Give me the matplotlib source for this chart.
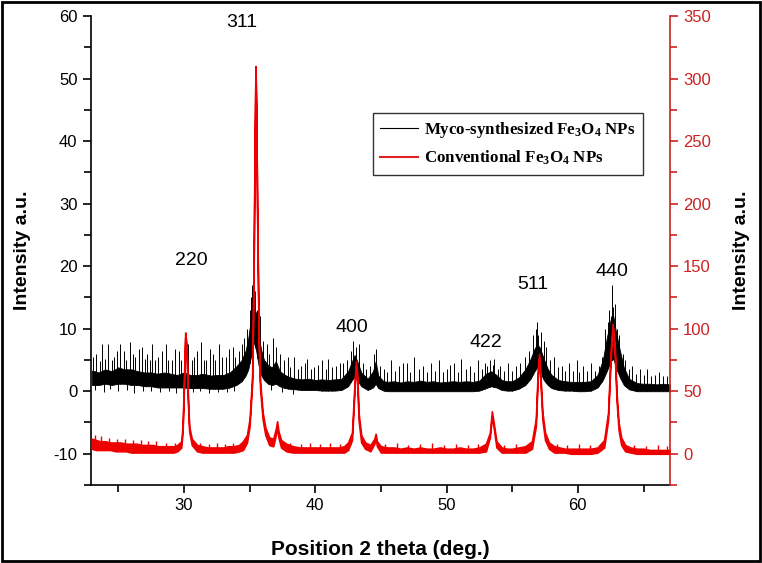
import numpy as np
import matplotlib.pyplot as plt
from matplotlib.patches import Rectangle
from matplotlib.lines import Line2D
from matplotlib.ticker import MultipleLocator

plt.rcParams['font.family'] = ['Liberation Sans', 'DejaVu Sans']
plt.rcParams['mathtext.default'] = 'regular'
plt.rcParams['axes.unicode_minus'] = False

# --- myco-synthesized Fe3O4 (left axis): noise band lo/hi
black_x = [23.0, 23.5, 24.0, 24.5, 25.0, 25.5, 26.0, 26.5, 27.0, 27.5, 28.0, 28.5,
           29.0, 29.5, 30.0, 30.5, 31.0, 31.5, 32.0, 32.5, 33.0, 33.5, 34.0, 34.4,
           34.7, 34.9, 35.1, 35.3, 35.5, 35.7, 35.9, 36.1, 36.4, 36.7, 37.0, 37.3,
           37.7, 38.0, 38.5, 39.0, 39.5, 40.0, 40.5, 41.0, 41.5, 42.0, 42.5, 42.8,
           43.0, 43.2, 43.5, 44.0, 44.4, 44.6, 44.8, 45.2, 45.5, 46.0, 46.5, 47.0,
           47.5, 48.0, 48.5, 49.0, 49.5, 50.0, 50.5, 51.0, 51.5, 52.0, 52.5, 53.0,
           53.4, 53.8, 54.2, 54.6, 55.0, 55.5, 56.0, 56.4, 56.7, 56.9, 57.1, 57.4,
           57.7, 58.0, 58.5, 59.0, 59.5, 60.0, 60.5, 61.0, 61.5, 61.9, 62.2, 62.5,
           62.7, 62.9, 63.2, 63.5, 63.9, 64.5, 65.0, 65.5, 66.0, 66.5, 67.0]
black_lo = [1.0, 1.0, 1.2, 1.0, 1.2, 1.2, 1.0, 1.0, 0.8, 0.8, 0.6, 0.6,
            0.6, 0.6, 0.6, 0.5, 0.5, 0.5, 0.4, 0.4, 0.4, 0.6, 1.0, 1.6,
            2.5, 3.5, 5.5, 8.0, 6.5, 4.0, 2.5, 1.8, 1.2, 1.0, 1.2, 0.8,
            0.5, 0.4, 0.3, 0.2, 0.2, 0.2, 0.1, 0.1, 0.1, 0.2, 0.8, 1.8,
            2.3, 1.8, 0.8, 0.2, 0.6, 1.2, 0.5, 0.1, 0.0, 0.0, 0.0, 0.0,
            0.0, 0.0, 0.0, 0.0, 0.0, 0.0, 0.0, 0.0, 0.0, 0.0, 0.1, 0.5,
            0.8, 0.6, 0.2, 0.1, 0.1, 0.4, 1.0, 2.0, 3.2, 3.8, 3.2, 1.8,
            1.0, 0.5, 0.2, 0.1, 0.1, 0.0, 0.0, 0.1, 0.6, 1.8, 3.2, 4.8,
            5.2, 3.8, 2.2, 1.0, 0.3, 0.0, 0.0, 0.0, 0.0, 0.0, 0.0]
black_hi = [3.3, 3.0, 3.5, 3.2, 3.8, 3.5, 3.5, 3.2, 3.0, 3.0, 2.8, 3.0,
            2.8, 2.6, 3.0, 2.6, 2.6, 2.8, 2.5, 2.6, 2.6, 3.0, 4.0, 5.0,
            6.5, 8.5, 11.5, 13.5, 12.5, 8.5, 6.5, 5.0, 4.2, 3.8, 4.8, 3.2,
            2.6, 2.3, 2.0, 1.9, 2.0, 1.8, 1.9, 1.8, 1.9, 2.0, 3.2, 4.8,
            5.8, 4.8, 3.0, 2.0, 3.2, 4.8, 2.5, 1.6, 1.5, 1.6, 1.4, 1.6,
            1.5, 1.7, 1.5, 1.6, 1.4, 1.5, 1.6, 1.5, 1.6, 1.5, 1.7, 2.8,
            3.2, 2.6, 1.8, 1.6, 1.6, 2.2, 3.5, 5.2, 6.8, 7.5, 7.0, 5.2,
            3.6, 2.6, 1.8, 1.6, 1.5, 1.5, 1.5, 1.6, 2.6, 5.0, 8.5, 11.5,
            12.0, 9.5, 6.5, 3.8, 2.0, 1.3, 1.2, 1.2, 1.1, 1.2, 1.1]

# single noise spikes above the band
spike_x = [23.1, 23.3, 23.6, 23.8, 24.0, 24.2, 24.5, 24.7, 24.9, 25.1, 25.4, 25.6,
           25.9, 26.1, 26.3, 26.6, 26.8, 27.0, 27.2, 27.4, 27.6, 27.8, 28.0, 28.3,
           28.6, 28.8, 29.1, 29.3, 29.6, 29.8, 30.1, 30.3, 30.6, 30.8, 31.0, 31.3,
           31.5, 31.7, 32.0, 32.2, 32.4, 32.7, 32.9, 33.2, 33.4, 33.7, 33.9, 34.2,
           34.4, 34.6, 34.8, 35.0, 35.1, 35.2, 35.3, 35.4, 35.6, 35.8, 36.0, 36.3,
           36.5, 36.8, 37.0, 37.3, 37.6, 37.9, 38.1, 38.4, 38.7, 38.9, 39.2, 39.4,
           39.7, 39.9, 40.2, 40.5, 40.8, 41.0, 41.3, 41.6, 41.9, 42.1, 42.4, 42.7,
           42.9, 43.1, 43.3, 43.6, 43.9, 44.2, 44.5, 44.6, 44.9, 45.2, 45.5, 45.8,
           46.1, 46.4, 46.7, 47.0, 47.2, 47.5, 47.9, 48.2, 48.5, 48.8, 49.1, 49.4,
           49.7, 50.0, 50.3, 50.6, 50.9, 51.1, 51.5, 51.8, 52.1, 52.4, 52.7, 52.9,
           53.1, 53.3, 53.5, 53.6, 53.9, 54.1, 54.4, 54.7, 55.0, 55.3, 55.6, 56.0,
           56.3, 56.6, 56.8, 56.9, 57.0, 57.2, 57.4, 57.6, 57.9, 58.2, 58.5, 58.8,
           59.0, 59.3, 59.6, 59.9, 60.1, 60.4, 60.7, 61.0, 61.3, 61.6, 61.8, 62.1,
           62.3, 62.4, 62.5, 62.6, 62.7, 62.8, 63.0, 63.1, 63.4, 63.6, 63.9, 64.1,
           64.4, 64.7, 65.0, 65.3, 65.6, 65.9, 66.2, 66.5, 66.8]
spike_y = [5.5, 6.0, 4.8, 7.5, 5.2, 7.5, 5.0, 5.5, 6.5, 7.5, 6.5, 5.0,
           7.8, 6.0, 5.5, 6.8, 7.0, 5.2, 6.0, 5.0, 7.5, 5.0, 5.5, 6.5,
           7.5, 5.0, 5.0, 6.8, 6.5, 5.0, 5.5, 7.5, 5.0, 5.5, 6.5, 7.8,
           5.0, 5.0, 6.8, 6.0, 5.0, 7.5, 5.5, 5.5, 6.8, 7.0, 5.5, 6.5,
           7.5, 8.5, 10.0, 13.0, 15.0, 17.0, 14.5, 16.0, 13.0, 12.0, 8.0, 7.5,
           6.0, 8.5, 7.0, 6.0, 5.0, 5.5, 3.8, 5.5, 3.5, 4.0, 4.5, 5.2,
           3.6, 3.8, 4.2, 5.0, 3.5, 5.2, 3.8, 4.0, 4.5, 4.5, 5.0, 6.5,
           8.0, 7.0, 7.5, 4.5, 3.5, 4.0, 6.0, 6.8, 4.0, 3.5, 3.0, 5.0,
           3.2, 4.0, 4.5, 4.5, 3.0, 5.5, 3.5, 4.0, 3.0, 4.5, 3.2, 5.0,
           3.0, 3.5, 4.2, 4.5, 3.0, 5.2, 3.5, 4.0, 3.0, 5.0, 3.5, 4.5,
           4.0, 5.0, 4.2, 5.2, 3.5, 4.0, 3.2, 4.5, 3.2, 4.0, 4.5, 5.5,
           6.5, 9.0, 10.0, 11.0, 9.0, 9.5, 8.0, 7.0, 5.0, 5.5, 3.8, 4.0,
           3.2, 4.5, 3.2, 5.0, 3.0, 4.0, 3.2, 4.5, 3.2, 4.0, 5.5, 10.0,
           11.0, 13.0, 12.0, 17.0, 13.5, 14.0, 10.0, 9.0, 6.0, 5.0, 3.5, 4.0,
           2.8, 3.5, 2.6, 3.5, 2.5, 2.6, 3.0, 2.5, 2.4]

# downward noise dips below the band
dip_x = [23.2, 23.9, 24.4, 25.0, 25.7, 26.2, 26.9, 27.5, 28.2, 28.9, 29.4, 30.0,
         30.7, 31.2, 31.9, 32.6, 33.3, 33.8, 36.6, 37.5, 38.3]
dip_y = [0.2, -0.2, 0.3, 0.0, 0.2, -0.3, 0.1, 0.0, -0.2, 0.0, -0.3, 0.0,
         -0.2, 0.0, -0.3, -0.1, -0.2, 0.0, 0.2, -0.2, -0.4]

# --- conventional Fe3O4 (right axis): noise band lo/hi
red_x = [23.0, 23.3, 23.6, 24.0, 24.4, 24.8, 25.2, 25.6, 26.0, 26.4, 26.8, 27.2,
         27.6, 28.0, 28.4, 28.8, 29.2, 29.5, 29.8, 29.9, 30.0, 30.1, 30.2, 30.3,
         30.4, 30.6, 31.0, 31.4, 31.8, 32.2, 32.6, 33.0, 33.4, 33.8, 34.2, 34.5,
         34.8, 35.0, 35.2, 35.3, 35.4, 35.45, 35.5, 35.6, 35.7, 35.8, 36.0, 36.2,
         36.5, 36.8, 37.0, 37.1, 37.2, 37.4, 37.8, 38.3, 38.8, 39.3, 39.8, 40.3,
         40.8, 41.3, 41.8, 42.2, 42.5, 42.8, 43.0, 43.1, 43.2, 43.3, 43.5, 43.8,
         44.2, 44.5, 44.6, 44.7, 45.0, 45.5, 46.0, 46.5, 47.0, 47.5, 48.0, 48.5,
         49.0, 49.5, 50.0, 50.5, 51.0, 51.5, 52.0, 52.5, 53.0, 53.3, 53.45, 53.6,
         53.8, 54.2, 54.6, 55.0, 55.5, 56.0, 56.5, 56.8, 56.95, 57.05, 57.15, 57.3,
         57.5, 57.8, 58.2, 58.6, 59.0, 59.5, 60.0, 60.5, 61.0, 61.5, 62.0, 62.3,
         62.5, 62.65, 62.8, 62.95, 63.1, 63.3, 63.6, 64.0, 64.5, 65.0, 65.5, 66.0,
         66.5, 67.0]
red_lo = [4, 3, 3, 3, 3, 2, 2, 2, 1, 1, 1, 1,
          1, 1, 1, 1, 1, 2, 5, 18, 52, 93, 82, 42,
          18, 7, 2, 1, 1, 1, 1, 1, 1, 1, 2, 3,
          9, 22, 57, 137, 257, 305, 277, 167, 87, 52, 27, 15,
          7, 6, 15, 22, 13, 5, 2, 1, 1, 1, 1, 1,
          1, 1, 1, 1, 3, 11, 52, 70, 57, 27, 9, 4,
          2, 8, 12, 6, 1, 1, 1, 1, 1, 1, 1, 1,
          1, 1, 1, 1, 1, 1, 1, 1, 2, 13, 30, 20,
          5, 1, 1, 1, 1, 1, 4, 22, 62, 76, 57, 27,
          11, 4, 1, 1, 1, 0, 0, 0, 0, 1, 5, 27,
          77, 100, 82, 42, 19, 7, 2, 1, 0, 0, 0, 0,
          0, 0]
red_hi = [12, 11, 10, 10, 9, 9, 9, 8, 8, 8, 7, 7,
          7, 6, 6, 6, 6, 7, 10, 22, 58, 97, 88, 48,
          22, 12, 7, 6, 5, 5, 5, 5, 6, 6, 7, 10,
          15, 28, 63, 143, 263, 310, 283, 173, 93, 58, 33, 21,
          13, 12, 20, 26, 18, 11, 8, 6, 5, 5, 5, 5,
          5, 5, 5, 6, 9, 17, 58, 74, 63, 33, 15, 9,
          7, 12, 16, 10, 6, 5, 5, 4, 5, 4, 5, 4,
          4, 5, 4, 4, 5, 4, 4, 5, 8, 17, 34, 24,
          10, 5, 4, 4, 5, 6, 10, 28, 68, 80, 63, 33,
          17, 9, 6, 5, 4, 4, 4, 4, 4, 5, 11, 33,
          83, 104, 88, 48, 25, 13, 7, 5, 4, 4, 3, 3,
          3, 3]

# small noise spikes on the red baseline
red_spike_x = [23.2, 23.7, 24.3, 24.9, 25.5, 26.1, 26.7, 27.3, 27.9, 28.6, 29.3, 31.2,
               31.9, 32.5, 33.1, 33.7, 38.1, 38.9, 39.6, 40.4, 41.1, 41.9, 45.3, 46.2,
               47.1, 48.0, 48.9, 49.8, 50.7, 51.6, 52.4, 54.4, 55.3, 58.4, 59.2, 60.1,
               60.9, 61.7, 64.3, 65.2, 66.1, 66.8]
red_spike_y = [15, 14, 13, 12, 12, 11, 11, 10, 10, 9, 9, 9,
               8, 9, 8, 9, 9, 8, 9, 8, 9, 8, 8, 9,
               7, 8, 9, 7, 8, 7, 8, 7, 8, 8, 7, 8,
               7, 8, 7, 6, 7, 6]

peak_labels = ['311', '220', '400', '422', '511', '440']
label_x = [34.4, 30.6, 42.8, 53.0, 56.6, 62.6]
label_y = [57.6, 19.5, 8.8, 6.5, 15.7, 17.8]

fig = plt.figure(figsize=(7.62, 5.63), dpi=100)
ax = fig.add_axes([0.119, 0.1385, 0.76, 0.833])
ax2 = ax.twinx()

ax.fill_between(black_x, black_lo, black_hi, color='black', lw=0.6)
ax.vlines(spike_x, np.interp(spike_x, black_x, black_lo), spike_y, color='black', lw=0.7)
ax.vlines(dip_x, dip_y, np.interp(dip_x, black_x, black_hi), color='black', lw=0.7)
ax2.fill_between(red_x, red_lo, red_hi, color='#ee0000', lw=1.2)
ax2.vlines(red_spike_x, np.interp(red_spike_x, red_x, red_lo), red_spike_y,
           color='#ee0000', lw=1.0)

ax.set_xlim(22.9, 67.0)
ax.set_ylim(-15, 60)
ax2.set_ylim(-25, 350)

ax.xaxis.set_major_locator(MultipleLocator(10))
ax.xaxis.set_minor_locator(MultipleLocator(5))
ax.yaxis.set_major_locator(MultipleLocator(10))
ax.yaxis.set_minor_locator(MultipleLocator(5))
ax2.yaxis.set_major_locator(MultipleLocator(50))
ax2.yaxis.set_minor_locator(MultipleLocator(25))

red_ax = '#cc2222'
for a in (ax, ax2):
    a.spines['top'].set_visible(False)
    a.tick_params(which='both', direction='out', labelsize=12, width=1.2)
    a.tick_params(which='major', length=6)
    a.tick_params(which='minor', length=5)
ax.spines['right'].set_visible(False)
ax.spines['left'].set_linewidth(1.2)
ax.spines['bottom'].set_linewidth(1.2)
ax2.spines['left'].set_visible(False)
ax2.spines['bottom'].set_visible(False)
ax2.spines['right'].set_color(red_ax)
ax2.spines['right'].set_linewidth(1.2)
ax2.tick_params(which='both', colors=red_ax, labelcolor=red_ax)

ax.set_xlabel('Position 2 theta (deg.)', fontsize=15, fontweight='bold', labelpad=19)
ax.set_ylabel('Intensity a.u.', fontsize=14, fontweight='bold', labelpad=16)
ax2.set_ylabel('Intensity a.u.', fontsize=14, fontweight='bold', labelpad=16)

for t, x, y in zip(peak_labels, label_x, label_y):
    ax.text(x, y, t, fontsize=14, ha='center', va='bottom')

handles = [Line2D([], [], color='black', lw=0.8), Line2D([], [], color='#dd2222', lw=1.5)]
names = [r'Myco-synthesized Fe$_3$O$_4$ NPs', r'Conventional Fe$_3$O$_4$ NPs']
leg = fig.legend(handles, names, loc='upper left', bbox_to_anchor=(0.489, 0.800),
                 frameon=True, fancybox=False, edgecolor='black', handlelength=2.2,
                 handletextpad=0.4, prop={'family': 'Liberation Serif', 'weight': 'bold',
                                          'size': 12.2},
                 borderaxespad=0, borderpad=0.45, labelspacing=0.5)
leg.get_frame().set_linewidth(1.0)

fig.patches.append(Rectangle((0.002, 0.003), 0.996, 0.994, transform=fig.transFigure,
                             fill=False, edgecolor='black', lw=2))

fig.savefig('out.png', dpi=100)
